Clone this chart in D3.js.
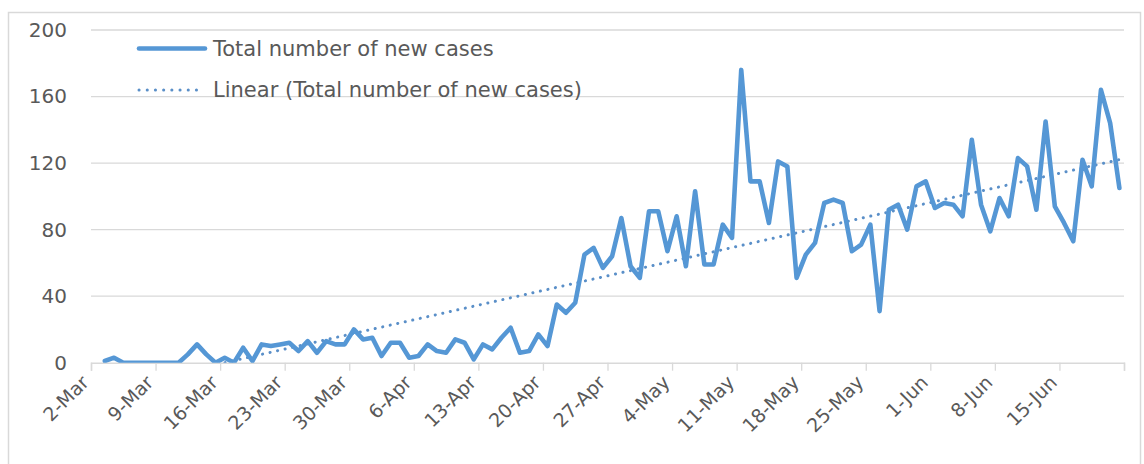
<!DOCTYPE html>
<html>
<head>
<meta charset="utf-8">
<script src="https://cdn.jsdelivr.net/npm/d3@7"></script>
<style>
  html, body { margin: 0; padding: 0; background: #ffffff; }
  svg { display: block; font-family: "DejaVu Sans", sans-serif; }
</style>
</head>
<body>
<svg id="chart" width="1144" height="464"></svg>
<script>
// Daily new cases, one value per day starting 3 March 2020
const firstDay = "2020-03-03";
const newCases = [
  1, 3, 0, 0, 0, 0, 0, 0, 0, 5,
  11, 5, 0, 3, 0, 9, 1, 11, 10, 11,
  12, 7, 13, 6, 13, 11, 11, 20, 14, 15,
  4, 12, 12, 3, 4, 11, 7, 6, 14, 12,
  2, 11, 8, 15, 21, 6, 7, 17, 10, 35,
  30, 36, 65, 69, 57, 64, 87, 58, 51, 91,
  91, 67, 88, 58, 103, 59, 59, 83, 75, 176,
  109, 109, 84, 121, 118, 51, 65, 72, 96, 98,
  96, 67, 71, 83, 31, 92, 95, 80, 106, 109,
  93, 96, 95, 88, 134, 95, 79, 99, 88, 123,
  118, 92, 145, 94, 84, 73, 122, 106, 164, 144,
  105
];

// Axis definition
const axisStart = "2020-03-02";
const axisEnd = "2020-06-22";
const xTickLabels = ["2-Mar", "9-Mar", "16-Mar", "23-Mar", "30-Mar", "6-Apr", "13-Apr", "20-Apr",
                     "27-Apr", "4-May", "11-May", "18-May", "25-May", "1-Jun", "8-Jun", "15-Jun"];
const yTicks = [0, 40, 80, 120, 160, 200];
const seriesName = "Total number of new cases";
const trendName = "Linear (Total number of new cases)";

const lineColor = "#5597d5";
const trendColor = "#5a8fc8";
const textColor = "#595959";
const gridColor = "#d9d9d9";

const svg = d3.select("#chart");
const plot = { left: 91, right: 1124, top: 30, bottom: 362.7 };

const parse = d3.utcParse("%Y-%m-%d");
const t0 = parse(firstDay);
const rows = newCases.map((v, i) => ({ date: d3.utcDay.offset(t0, i), value: v, idx: i }));

const x = d3.scaleUtc()
  .domain([parse(axisStart), parse(axisEnd)])
  .range([plot.left, plot.right]);
const y = d3.scaleLinear().domain([0, 200]).range([plot.bottom, plot.top]);

// each day's point sits in the middle of its day slot
const xMid = d => x(d3.utcHour.offset(d, 12));

// outer frame
svg.append("rect")
  .attr("x", 8.5).attr("y", 12.5)
  .attr("width", 1132).attr("height", 470)
  .attr("fill", "none").attr("stroke", gridColor).attr("stroke-width", 1.5);

// horizontal gridlines
svg.append("g")
  .selectAll("line")
  .data(yTicks.filter(v => v > 0))
  .join("line")
  .attr("x1", plot.left).attr("x2", plot.right)
  .attr("y1", d => y(d)).attr("y2", d => y(d))
  .attr("stroke", gridColor).attr("stroke-width", 1.3);

// y axis labels
const yAxis = d3.axisLeft(y).tickValues(yTicks).tickSize(0).tickPadding(24);
svg.append("g")
  .attr("transform", `translate(${plot.left},0)`)
  .call(yAxis)
  .call(g => g.select(".domain").remove())
  .call(g => g.selectAll("text")
    .attr("fill", textColor)
    .style("font-size", "20px")
    .style("font-family", "DejaVu Sans, sans-serif"));

// x axis: baseline, weekly tick marks and rotated labels
const tickDates = d3.utcDay.range(parse(axisStart), d3.utcDay.offset(parse(axisEnd), 1), 7);
const xAxis = d3.axisBottom(x).tickValues(tickDates).tickSize(8).tickFormat("");
svg.append("g")
  .attr("transform", `translate(0,${plot.bottom})`)
  .call(xAxis)
  .call(g => g.select(".domain").attr("stroke", gridColor).attr("stroke-width", 1.5))
  .call(g => g.selectAll(".tick line").attr("stroke", gridColor).attr("stroke-width", 1.3));

svg.append("g")
  .selectAll("text")
  .data(xTickLabels)
  .join("text")
  .attr("transform", (d, i) => `translate(${x(tickDates[i]) - 6},${plot.bottom + 16}) rotate(-45)`)
  .attr("text-anchor", "end")
  .attr("dominant-baseline", "central")
  .attr("fill", textColor)
  .style("font-size", "19px")
  .text(d => d);

// clip marks to the plot area
svg.append("clipPath").attr("id", "plotClip")
  .append("rect")
  .attr("x", plot.left).attr("y", plot.top - 10)
  .attr("width", plot.right - plot.left).attr("height", plot.bottom - plot.top + 10);

// linear trendline (least squares on day index)
const n = rows.length;
const mx = d3.mean(rows, d => d.idx);
const my = d3.mean(rows, d => d.value);
const slope = d3.sum(rows, d => (d.idx - mx) * (d.value - my)) / d3.sum(rows, d => (d.idx - mx) ** 2);
const intercept = my - slope * mx;
const trendRows = [rows[0], rows[n - 1]].map(d => ({ date: d.date, value: intercept + slope * d.idx }));

const lineGen = d3.line().x(d => xMid(d.date)).y(d => y(d.value));

svg.append("path")
  .datum(trendRows)
  .attr("clip-path", "url(#plotClip)")
  .attr("d", lineGen)
  .attr("fill", "none")
  .attr("stroke", trendColor)
  .attr("stroke-width", 3)
  .attr("stroke-linecap", "round")
  .attr("stroke-dasharray", "0.1 7.6");

// the series line
svg.append("path")
  .datum(rows)
  .attr("clip-path", "url(#plotClip)")
  .attr("d", lineGen)
  .attr("fill", "none")
  .attr("stroke", lineColor)
  .attr("stroke-width", 4.6)
  .attr("stroke-linejoin", "round")
  .attr("stroke-linecap", "round");

// legend
const legend = svg.append("g");
legend.append("line")
  .attr("x1", 139).attr("x2", 205).attr("y1", 48.5).attr("y2", 48.5)
  .attr("stroke", lineColor).attr("stroke-width", 4.6).attr("stroke-linecap", "round");
legend.append("text")
  .attr("x", 213).attr("y", 48.5)
  .attr("dominant-baseline", "central")
  .attr("fill", textColor).style("font-size", "21px")
  .text(seriesName);
legend.append("line")
  .attr("x1", 139).attr("x2", 204).attr("y1", 90).attr("y2", 90)
  .attr("stroke", trendColor).attr("stroke-width", 3)
  .attr("stroke-linecap", "round").attr("stroke-dasharray", "0.1 8.1");
legend.append("text")
  .attr("x", 213).attr("y", 90)
  .attr("dominant-baseline", "central")
  .attr("fill", textColor).style("font-size", "21px")
  .text(trendName);
</script>
</body>
</html>
